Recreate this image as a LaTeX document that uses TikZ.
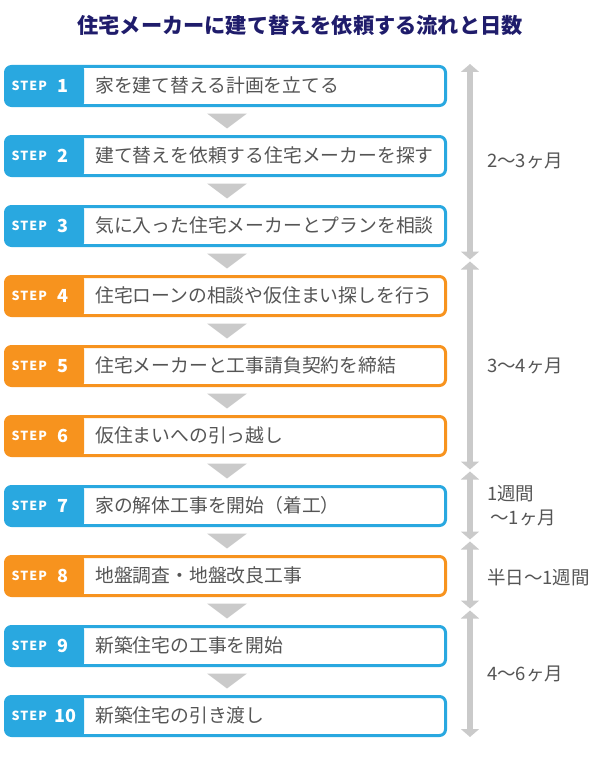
\documentclass[tikz,border=0pt]{standalone}
\usepackage{fontspec}
\setmainfont{Noto Sans CJK JP}
\newfontfamily\stepfont[LetterSpace=8]{Noto Sans CJK JP}
\usetikzlibrary{arrows.meta}
\definecolor{stepblue}{HTML}{29A8E0}
\definecolor{steporange}{HTML}{F7931E}
\definecolor{titlenavy}{HTML}{1F1C6B}
\definecolor{txtgrey}{HTML}{555555}
\definecolor{arrgrey}{HTML}{CACACA}
\tikzset{
  stepbox/.style={draw=#1, line width=3pt, rounded corners=6pt, fill=white,
    minimum width=440pt, minimum height=39pt, inner sep=0pt,
    path picture={\fill[#1] ([xshift=-3pt,yshift=3pt]path picture bounding box.north west) rectangle ([xshift=78.5pt,yshift=-3pt]path picture bounding box.south west);}},
  steplbl/.style={anchor=west, text=white, font=\stepfont\fontsize{12.5}{12.5}\selectfont\bfseries, inner sep=0pt},
  stepnum/.style={anchor=center, text=white, font=\fontsize{18}{18}\selectfont\bfseries, inner sep=0pt},
  steptxt/.style={anchor=west, text=txtgrey, font=\fontsize{18.8}{18.8}\selectfont, inner sep=0pt},
  downtri/.style={fill=arrgrey},
  span/.style={draw=arrgrey, line width=6.5pt, {Triangle[width=18pt,length=8pt]}-{Triangle[width=18pt,length=8pt]}, shorten >=0pt, shorten <=0pt},
  spantxt/.style={anchor=west, text=txtgrey, font=\fontsize{18.5}{24}\selectfont, inner sep=0pt, align=left},
}
\begin{document}
\begin{tikzpicture}[x=1pt, y=-1pt]
\useasboundingbox (0,0) rectangle (600,760);
\node[text=titlenavy, font=\fontsize{21.2}{21.2}\selectfont\bfseries, inner sep=0pt] (title) at (300,25) {住宅メーカーに建て替えを依頼する流れと日数};

\foreach \i/\c/\t in {
 1/stepblue/家を建て替える計画を立てる,
 2/stepblue/建て替えを依頼する住宅メーカーを探す,
 3/stepblue/気に入った住宅メーカーとプランを相談,
 4/steporange/住宅ローンの相談や仮住まい探しを行う,
 5/steporange/住宅メーカーと工事請負契約を締結,
 6/steporange/仮住まいへの引っ越し,
 7/stepblue/家の解体工事を開始（着工）,
 8/steporange/地盤調査・地盤改良工事,
 9/stepblue/新築住宅の工事を開始,
 10/stepblue/新築住宅の引き渡し}{
  \node[stepbox=\c] (s\i) at (225.5,{86+70*(\i-1)}) {};
  \node[steplbl] (l\i) at ([xshift=7.5pt,yshift=0.5pt]s\i.west) {STEP};
  \pgfmathsetmacro{\nx}{58.5+2.5*(\i>9)}
  \node[stepnum] (n\i) at ([xshift=\nx pt]s\i.west) {\i};
  \node[steptxt] (t\i) at ([xshift=91pt,yshift=0.5pt]s\i.west) {\t};
}
\foreach \i [evaluate=\i as \j using int(\i+1)] in {1,...,9}{
  \fill[downtri] ([xshift=-18.5pt,yshift=-6.5pt]s\i.south) -- ([xshift=21.5pt,yshift=-6.5pt]s\i.south) -- ([xshift=1.5pt,yshift=6.5pt]s\j.north) -- cycle;
}

\coordinate (a1) at (470,64);
\coordinate (b1) at (470,259.5);
\coordinate (a2) at (470,261.5);
\coordinate (b2) at (470,469.5);
\coordinate (a3) at (470,471.5);
\coordinate (b3) at (470,539.5);
\coordinate (a4) at (470,541.5);
\coordinate (b4) at (470,608.5);
\coordinate (a5) at (470,610.5);
\coordinate (b5) at (470,737);
\draw[span] (a1) -- (b1);
\draw[span] (a2) -- (b2);
\draw[span] (a3) -- (b3);
\draw[span] (a4) -- (b4);
\draw[span] (a5) -- (b5);

\node[spantxt] (d1) at (487,161) {2〜3ヶ月};
\node[spantxt] (d2) at (487,366) {3〜4ヶ月};
\node[spantxt] (d3) at (487,506) {1週間\\\,〜1ヶ月};
\node[spantxt] (d4) at (487,577) {半日〜1週間};
\node[spantxt] (d5) at (487,674) {4〜6ヶ月};
\end{tikzpicture}
\end{document}
